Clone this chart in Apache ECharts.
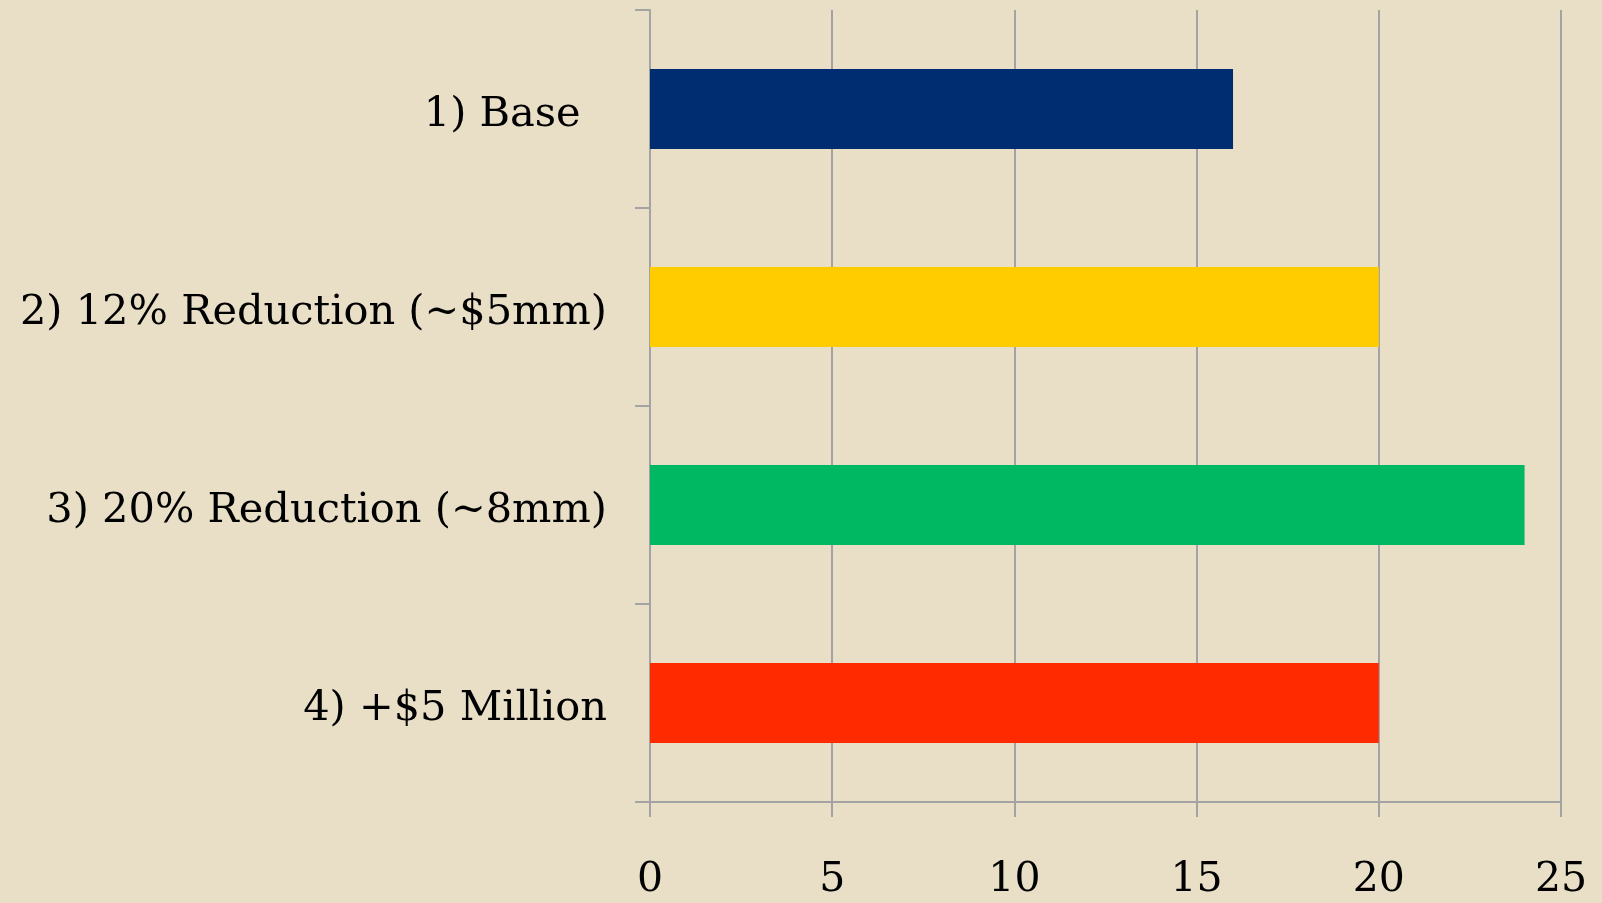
<!DOCTYPE html>
<html>
<head>
<meta charset="utf-8">
<script src="https://cdn.jsdelivr.net/npm/echarts@6/dist/echarts.min.js"></script>
<style>
  html, body { margin: 0; padding: 0; background: #e9dfc7; }
  #chart { width: 1602px; height: 903px; }
</style>
</head>
<body>
<div id="chart"></div>
<script>
// scenarios, top to bottom
const categories = ['1) Base  ', '2) 12% Reduction (~$5mm)', '3) 20% Reduction (~8mm)', '4) +$5 Million'];
const values = [16, 20, 24, 20];
const barColors = ['#002d72', '#ffcc00', '#00b862', '#ff2a00'];

const gridGrey = '#a3a3a3';
const font = '"DejaVu Serif", Georgia, serif';

const chart = echarts.init(document.getElementById('chart'));
chart.setOption({
  backgroundColor: '#e9dfc7',
  animation: false,
  grid: { left: 650, right: 41, top: 10, bottom: 101, containLabel: false },
  xAxis: {
    type: 'value',
    min: 0,
    max: 25,
    interval: 5,
    axisLine: { show: true, lineStyle: { color: gridGrey, width: 2 } },
    axisTick: { show: true, length: 15, lineStyle: { color: gridGrey, width: 2 } },
    splitLine: { show: true, lineStyle: { color: gridGrey, width: 2 } },
    axisLabel: { color: '#000', fontFamily: font, fontSize: 41, margin: 58 }
  },
  yAxis: {
    type: 'category',
    inverse: true,
    data: categories,
    axisLine: { show: true, lineStyle: { color: gridGrey, width: 2 } },
    axisTick: { show: true, length: 15, lineStyle: { color: gridGrey, width: 2 } },
    // nudge labels a few px below the band centre, as in the original
    axisLabel: { color: '#000', fontFamily: font, fontSize: 41.5, margin: 43, verticalAlign: 'top', lineHeight: 12 }
  },
  series: [{
    type: 'bar',
    barWidth: 80,
    data: values.map((v, i) => ({ value: v, itemStyle: { color: barColors[i] } }))
  }]
});
</script>
</body>
</html>
